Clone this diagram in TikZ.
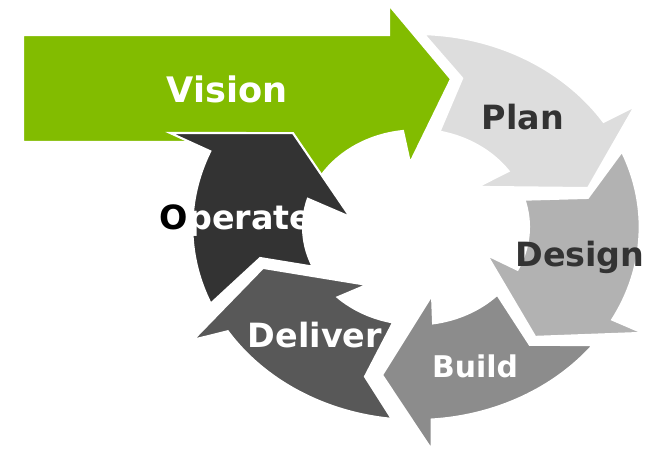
\documentclass[tikz,border=0pt]{standalone}
\usepackage{fontspec}
\setmainfont{DejaVu Sans}
\usepackage{tikz}
\usepackage{xcolor}
\definecolor{visiongreen}{HTML}{82BC00}
\definecolor{plangray}{HTML}{DDDDDD}
\definecolor{designgray}{HTML}{B2B2B2}
\definecolor{buildgray}{HTML}{8C8C8C}
\definecolor{delivergray}{HTML}{585858}
\definecolor{operategray}{HTML}{333333}
\tikzset{
    stage/.style={draw=white, line width=1.2pt, line join=miter},
    stagelabel/.style={anchor=base, inner sep=0pt, font=\fontsize{19}{22}\selectfont\bfseries},
}

\begin{document}
\begin{tikzpicture}[x=0.02cm, y=-0.02cm]
    \useasboundingbox (0,0) rectangle (646,452);
    % the big green arrow
    \filldraw[stage, fill=visiongreen] (23,35) -- (389,35) -- (389,5) -- (451,79) -- (410,163) -- (403,131)
        arc[start angle=-96.7, end angle=-155, x radius=111.9, y radius=96.5] -- (200,142) -- (23,142) -- cycle;

    % the cycle, in the ring's own polar coordinates
    \begin{scope}[shift={(416,227)}, x=4.52cm, y=3.9cm]
    \filldraw[stage, fill=plangray] (88:0.99) arc[start angle=88, end angle=33, radius=0.99]
        -- (32.6:1.15) -- (14.7:0.787) -- (37.2:0.34) -- (35:0.5)
        arc[start angle=35, end angle=78, radius=0.5] -- (75:0.79) -- cycle;
    \filldraw[stage, fill=designgray] (23:0.99) arc[start angle=23, end angle=-28.7, radius=0.99]
        -- (-28.4:1.142) -- (-46.9:0.772) -- (-24.6:0.345) -- (-26:0.5)
        arc[start angle=-26, end angle=16.3, radius=0.5] -- (11.1:0.775) -- cycle;
    \filldraw[stage, fill=buildgray] (-37.7:0.99) arc[start angle=-37.7, end angle=-86, radius=0.99]
        -- (-86.5:1.146) -- (-101.2:0.774) -- (-78.5:0.356) -- (-81.3:0.5)
        arc[start angle=-81.3, end angle=-44, radius=0.5] -- (-50.2:0.787) -- cycle;
    \filldraw[stage, fill=delivergray] (-96.2:0.99) arc[start angle=-96.2, end angle=-147.3, radius=0.99]
        -- (-149.6:1.144) -- (-162.8:0.709) -- (-126.2:0.368) -- (-133.9:0.5)
        arc[start angle=-133.9, end angle=-101.7, radius=0.5] -- (-106.4:0.8) -- cycle;
    \filldraw[stage, fill=operategray] (203.4:0.99) arc[start angle=203.4, end angle=156.9, radius=0.99]
        -- (156.1:1.19) -- (138.5:0.727) -- (170:0.296) -- (163.2:0.5)
        arc[start angle=163.2, end angle=204, radius=0.5] -- (193:0.708) -- cycle;
    \end{scope}

    \node[stagelabel, text=white, font=\fontsize{20}{24}\selectfont\bfseries] (vision) at (227,103) {Vision};
    \node[stagelabel, text=operategray] (plan) at (523,130) {Plan};
    \node[stagelabel, text=operategray] (design) at (580,267) {Design};
    \node[stagelabel, text=white, font=\fontsize{17}{20}\selectfont\bfseries] (build) at (475,378) {Build};
    \node[stagelabel, text=white] (deliver) at (315,348) {Deliver};
    \node[stagelabel, text=white] (operate) at (236,230) {{\color{black}O}perate};
\end{tikzpicture}
\end{document}
